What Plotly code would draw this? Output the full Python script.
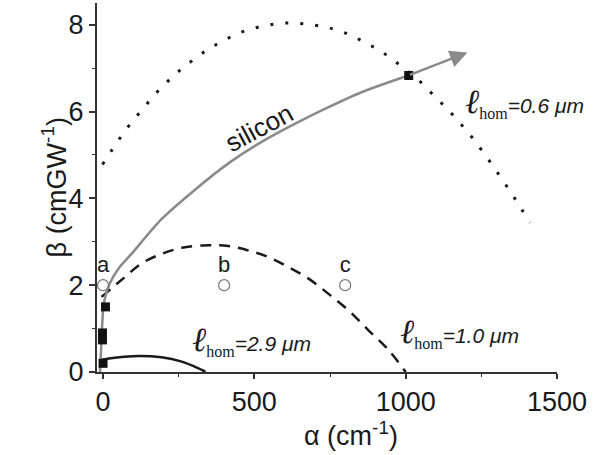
import plotly.graph_objects as go

# ---- data ----
# silicon curve (gray, ends with arrow)
si_x = [-10, -6, -2, 3, 22, 55, 94, 193, 304, 413, 524, 635, 745, 856, 1009, 1204]
si_y = [0.0, 0.6, 1.2, 1.6, 2.04, 2.42, 2.72, 3.52, 4.20, 4.80, 5.30, 5.72, 6.10, 6.45, 6.83, 7.36]

# l_hom = 0.6 um (dotted)
d06_x = [-2, 28, 59, 94, 133, 171, 213, 257, 302, 349, 395, 443, 489, 537, 583, 630, 677, 724,
         771, 817, 865, 913, 958, 1005, 1051, 1097, 1140, 1181, 1220, 1255, 1289, 1321, 1352, 1382, 1411]
d06_y = [4.78, 5.10, 5.42, 5.75, 6.07, 6.39, 6.69, 6.97, 7.21, 7.44, 7.62, 7.79, 7.90, 7.98, 8.03, 8.04, 8.01, 7.96,
         7.88, 7.76, 7.59, 7.41, 7.19, 6.94, 6.67, 6.34, 6.04, 5.72, 5.40, 5.07, 4.74, 4.41, 4.09, 3.76, 3.44]

# l_hom = 1.0 um (dashed)
d10_x = [-5, 66, 127, 193, 260, 347, 414, 480, 546, 612, 679, 745, 811, 877, 944, 1000]
d10_y = [1.73, 2.15, 2.50, 2.72, 2.86, 2.92, 2.90, 2.80, 2.65, 2.42, 2.15, 1.80, 1.42, 0.96, 0.50, 0.0]

# l_hom = 2.9 um (solid)
d29_x = [-5, 39, 117, 193, 260, 304, 332, 338]
d29_y = [0.28, 0.33, 0.37, 0.34, 0.24, 0.12, 0.03, 0.0]

# filled squares
sq_x = [0, -2, -2, 8, 1010]
sq_y = [0.2, 0.74, 0.9, 1.5, 6.83]

# open circles and their labels
oc_x = [0, 400, 800]
oc_y = [2.0, 2.0, 2.0]
oc_lab = ["a", "b", "c"]

# curve labels
lab_vals = ["0.6", "2.9", "1.0"]
lab_x = [1188, 287, 974]
lab_y = [6.2, 0.72, 0.90]

x_ticks = [0, 500, 1000, 1500]
y_ticks = [0, 2, 4, 6, 8]

SANS = "Liberation Sans, Arial, sans-serif"
SERIF = "Liberation Serif, Times New Roman, serif"

fig = go.Figure()

fig.add_trace(go.Scatter(x=d06_x, y=d06_y, mode="lines", line=dict(color="#1a1a1a", width=3, dash="3px,12px", shape="spline"),
                         hoverinfo="skip", showlegend=False))
fig.add_trace(go.Scatter(x=d10_x, y=d10_y, mode="lines", line=dict(color="#1a1a1a", width=2.5, dash="11px,8px", shape="spline"),
                         hoverinfo="skip", showlegend=False))
fig.add_trace(go.Scatter(x=d29_x, y=d29_y, mode="lines", line=dict(color="#1a1a1a", width=2.5, shape="spline"),
                         hoverinfo="skip", showlegend=False))
fig.add_trace(go.Scatter(x=si_x[:-1], y=si_y[:-1], mode="lines",
                         line=dict(color="#8a8a8a", width=2.5, shape="spline", smoothing=0.8),
                         hoverinfo="skip", showlegend=False))
fig.add_trace(go.Scatter(x=sq_x, y=sq_y, mode="markers", marker=dict(symbol="square", size=9, color="#111111"),
                         cliponaxis=False, hoverinfo="skip", showlegend=False))
fig.add_trace(go.Scatter(x=oc_x, y=oc_y, mode="markers+text", text=oc_lab, textposition="top center",
                         textfont=dict(family=SANS, size=22, color="#1a1a1a"),
                         marker=dict(symbol="circle-open", size=11, color="#777777", line=dict(width=1.2)),
                         cliponaxis=False, hoverinfo="skip", showlegend=False))

# arrow at end of silicon curve
fig.add_annotation(x=si_x[-1], y=si_y[-1], ax=si_x[-2], ay=si_y[-2], xref="x", yref="y", axref="x", ayref="y",
                   text="", showarrow=True, arrowhead=2, arrowsize=1.4, arrowwidth=2.5, arrowcolor="#8a8a8a", standoff=0)

fig.add_annotation(x=515, y=5.62, xref="x", yref="y", text="silicon", showarrow=False, textangle=-28,
                   font=dict(family=SANS, size=26, color="#1a1a1a"))

for v, lx, ly in zip(lab_vals, lab_x, lab_y):
    txt = ("<span style=\"font-size:34px\"><i>ℓ</i></span><sub><span style=\"font-size:16px\">hom</span></sub>"
           "<span style=\"font-family:Liberation Sans, Arial, sans-serif;font-size:21px\"><i>=" + v + " μm</i></span>")
    fig.add_annotation(x=lx, y=ly, xref="x", yref="y", text=txt, showarrow=False, xanchor="left", yanchor="middle",
                       font=dict(family=SERIF, size=27, color="#1a1a1a"))

# axis titles
fig.add_annotation(x=-0.135, y=0.5, xref="paper", yref="paper", text="β (cmGW<sup>-1</sup>)", showarrow=False,
                   textangle=-90, font=dict(family=SANS, size=27, color="#1a1a1a"))
fig.add_annotation(x=0.552, y=-0.168, xref="paper", yref="paper", text="α (cm<sup>-1</sup>)", showarrow=False,
                   yanchor="middle", font=dict(family=SANS, size=27, color="#1a1a1a"))

fig.update_xaxes(range=[-20, 1500], tickvals=x_ticks, ticks="outside", ticklen=5, tickwidth=1.5, tickcolor="#333",
                 showline=True, linecolor="#333", linewidth=2, showgrid=False, zeroline=False,
                 tickfont=dict(family=SANS, size=27, color="#1a1a1a"),
                 minor=dict(ticks="outside", ticklen=3, tickwidth=1.2, tickcolor="#333", dtick=250, tick0=0))
fig.update_yaxes(range=[0, 8.5], tickvals=y_ticks, ticks="outside", ticklen=6, tickwidth=1.5, tickcolor="#333",
                 showline=True, linecolor="#333", linewidth=2, showgrid=False, zeroline=False,
                 tickfont=dict(family=SANS, size=27, color="#1a1a1a"),
                 minor=dict(ticks="outside", ticklen=3, tickwidth=1.2, tickcolor="#333", dtick=1, tick0=0))

fig.update_layout(width=595, height=455, margin=dict(l=97, r=38, t=3, b=83),
                  paper_bgcolor="white", plot_bgcolor="white", showlegend=False)

fig.write_html("out.html")
